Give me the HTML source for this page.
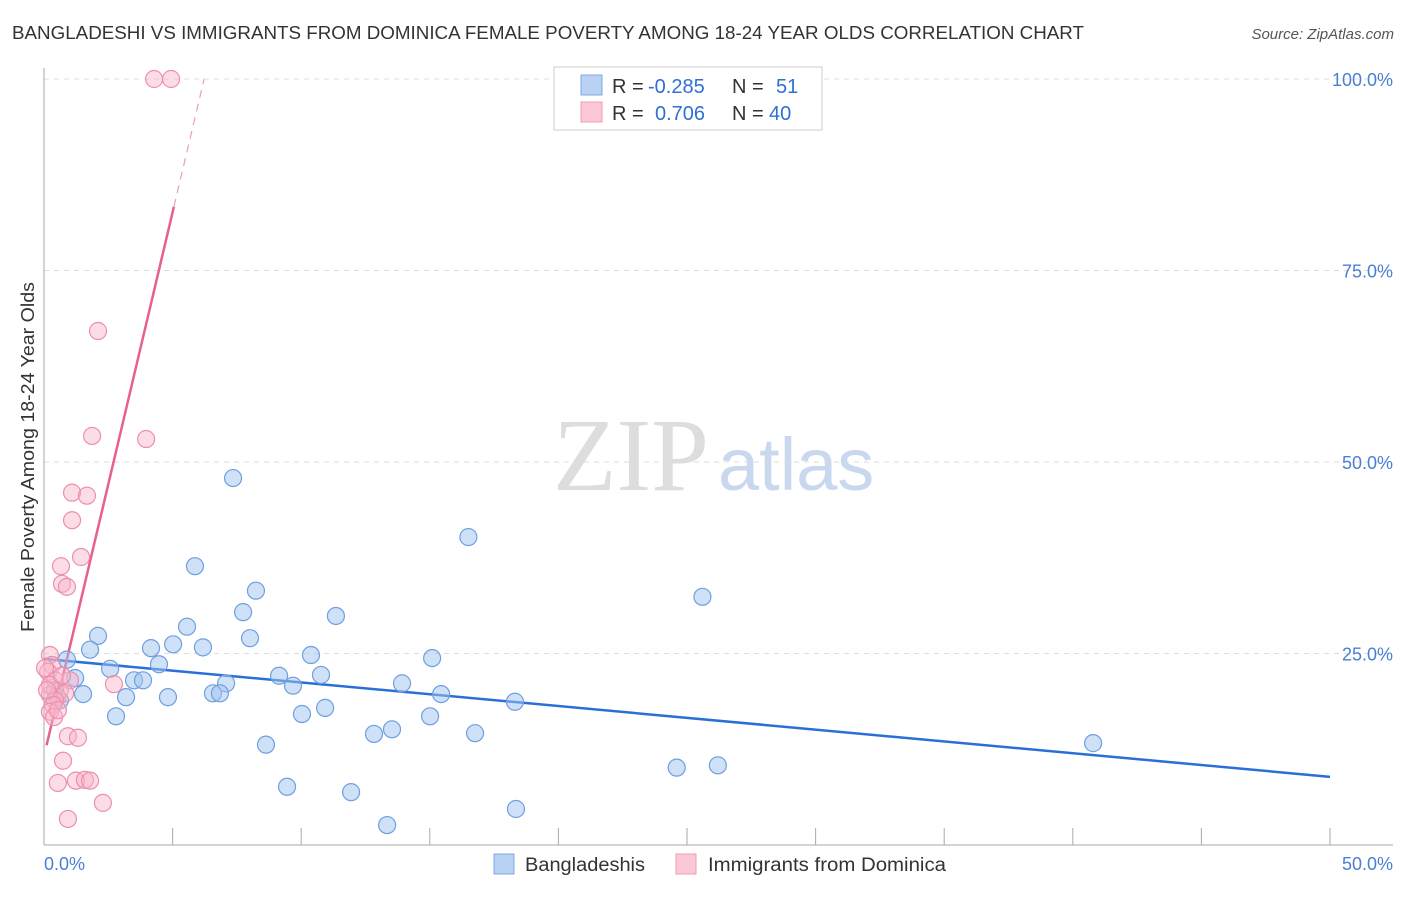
<!DOCTYPE html>
<html><head><meta charset="utf-8"><style>
body{margin:0;background:#fff;font-family:"Liberation Sans",sans-serif}
</style></head><body>
<svg id="chart" width="1406" height="892" xmlns="http://www.w3.org/2000/svg" font-family="Liberation Sans, sans-serif">
<text x="12" y="39" font-size="18" fill="#333" textLength="1072" lengthAdjust="spacingAndGlyphs">BANGLADESHI VS IMMIGRANTS FROM DOMINICA FEMALE POVERTY AMONG 18-24 YEAR OLDS CORRELATION CHART</text>
<text x="1394" y="39" font-size="15" fill="#555" text-anchor="end" font-style="italic">Source: ZipAtlas.com</text>
<text transform="translate(34,457) rotate(-90)" font-size="18" fill="#333" text-anchor="middle" textLength="350" lengthAdjust="spacingAndGlyphs">Female Poverty Among 18-24 Year Olds</text>
<g><text x="553" y="490" font-size="104" fill="#ddd" font-family="Liberation Serif, serif">ZIP</text><text x="718" y="490" font-size="74" fill="#c9d8ef">atlas</text></g>
<g id="grid"></g><g id="axes"></g><g id="trend"></g><g id="pts"></g>
<g>
<rect x="554" y="67" width="268" height="63" fill="#fff" stroke="#ccc"/>
<rect x="581" y="75" width="21" height="20" fill="#b9d2f3" stroke="#7fa8e0"/>
<rect x="581" y="102" width="21" height="20" fill="#fbc8d6" stroke="#f09ab3"/>
<text x="612" y="93" font-size="20" fill="#333">R = <tspan x="648" fill="#2f6fd6">-0.285</tspan><tspan x="732">N = </tspan><tspan x="776" fill="#2f6fd6">51</tspan></text>
<text x="612" y="120" font-size="20" fill="#333">R = <tspan x="655" fill="#2f6fd6">0.706</tspan><tspan x="732">N = </tspan><tspan x="769" fill="#2f6fd6">40</tspan></text>
</g>
<g>
<rect x="494" y="854" width="20" height="20" fill="#b9d2f3" stroke="#7fa8e0"/>
<text x="525" y="871" font-size="19" fill="#333" textLength="120" lengthAdjust="spacingAndGlyphs">Bangladeshis</text>
<rect x="676" y="854" width="20" height="20" fill="#fbc8d6" stroke="#f09ab3"/>
<text x="708" y="871" font-size="19" fill="#333" textLength="238" lengthAdjust="spacingAndGlyphs">Immigrants from Dominica</text>
</g>
</svg>
<script>
const yTicks=[25,50,75,100];
const yTickLabels=["25.0%","50.0%","75.0%","100.0%"];
const xTickLabels=["0.0%","50.0%"];
const blueX=[7.35,16.5,5.87,25.6,8.24,7.74,11.35,5.56,2.10,8.01,5.02,6.18,4.16,1.79,10.38,15.09,0.89,4.47,2.57,9.14,10.77,1.21,3.50,3.85,7.08,13.92,9.68,6.57,6.84,15.44,1.52,4.82,3.19,18.31,10.93,10.03,15.01,2.80,13.53,12.83,16.76,8.63,40.79,26.2,24.6,9.45,11.94,18.35,13.34,0.43,0.62];
const blueY=[47.9,40.2,36.4,32.4,33.2,30.4,29.9,28.5,27.3,27.0,26.2,25.8,25.7,25.5,24.8,24.4,24.2,23.6,23.0,22.1,22.2,21.8,21.5,21.5,21.1,21.1,20.8,19.8,19.8,19.7,19.7,19.3,19.3,18.7,17.9,17.1,16.8,16.8,15.1,14.5,14.6,13.1,13.3,10.4,10.1,7.6,6.9,4.7,2.6,20.2,18.9];
const pinkX=[4.28,4.94,2.10,1.87,3.97,1.09,1.67,1.09,1.44,0.66,0.70,0.89,0.23,0.31,0.16,0.43,1.01,2.72,0.62,0.23,0.51,0.82,0.43,0.35,0.23,0.39,0.93,1.32,0.74,0.54,1.24,1.59,1.79,2.29,0.93,0.23,0.12,0.70,0.54,0.04];
const pinkY=[100,100,67.1,53.4,53.0,46.0,45.6,42.4,37.6,36.4,34.1,33.7,24.8,23.5,22.6,21.5,21.5,21.0,20.2,19.6,19.3,19.8,18.9,18.3,17.4,16.7,14.2,14.0,11.0,8.1,8.4,8.5,8.4,5.5,3.4,20.9,20.2,22.1,17.6,23.1];
const blueTrend=[24.3,-0.308];   // intercept, slope
const pinkTrend=[11.6,14.2];
const pinkSolidEnd=5.05;
const NS="http://www.w3.org/2000/svg";
const sx=v=>44+v/50*1286, sy=v=>845-v/100*766;
function mk(tag,attrs,parent){const e=document.createElementNS(NS,tag);for(const k in attrs)e.setAttribute(k,attrs[k]);document.getElementById(parent).appendChild(e);return e;}
yTicks.forEach((t,i)=>{
 const g=mk('line',{x1:44,x2:1393,y1:sy(t),y2:sy(t),stroke:'#ddd','stroke-dasharray':'5,5'},'grid');
 
 
 const l=mk('text',{x:1393,y:sy(t)+7,'font-size':18,fill:'#4a7fd4','text-anchor':'end'},'grid');
 l.textContent=yTickLabels[i];
 
 
});
const ax=mk('line',{x1:44,x2:44,y1:68,y2:845,stroke:'#aaa'},'axes');


const bx=mk('line',{x1:44,x2:1393,y1:845,y2:845,stroke:'#aaa'},'axes');


for(let i=1;i<=10;i++){const t=mk('line',{x1:sx(i*5),x2:sx(i*5),y1:828,y2:845,stroke:'#aaa'},'axes');
 
 }
[[0,'start',44],[50,'end',1393]].forEach((d,i)=>{const t=mk('text',{x:d[2],y:870,'font-size':18,fill:'#4a7fd4','text-anchor':d[1]},'axes');t.textContent=xTickLabels[i];
 
 });
function dots(xs,ys,fill,stroke,name){xs.forEach((x,i)=>{const c=mk('circle',{cx:sx(x),cy:sy(ys[i]),r:8.5,fill:fill,stroke:stroke,'stroke-width':1.2},'pts');
 
 });}
dots(blueX,blueY,'rgba(160,195,240,0.5)','#6e9fe0','bangladeshi-point');
dots(pinkX,pinkY,'rgba(248,180,200,0.45)','#ec8fac','dominica-point');
const bl=mk('line',{x1:sx(0),y1:sy(blueTrend[0]),x2:sx(50),y2:sy(blueTrend[0]+blueTrend[1]*50),stroke:'#2a6fd8','stroke-width':2.5},'trend');


const px0=0.1, pxEnd=(100-pinkTrend[0])/pinkTrend[1];
const pl=mk('line',{x1:sx(px0),y1:sy(pinkTrend[0]+pinkTrend[1]*px0),x2:sx(pinkSolidEnd),y2:sy(pinkTrend[0]+pinkTrend[1]*pinkSolidEnd),stroke:'#e8608d','stroke-width':2.5},'trend');


const pd=mk('line',{x1:sx(pinkSolidEnd),y1:sy(pinkTrend[0]+pinkTrend[1]*pinkSolidEnd),x2:sx(pxEnd),y2:sy(100),stroke:'#e8a0b8','stroke-width':1.2,'stroke-dasharray':'8,6'},'trend');


</script>
</body></html>
